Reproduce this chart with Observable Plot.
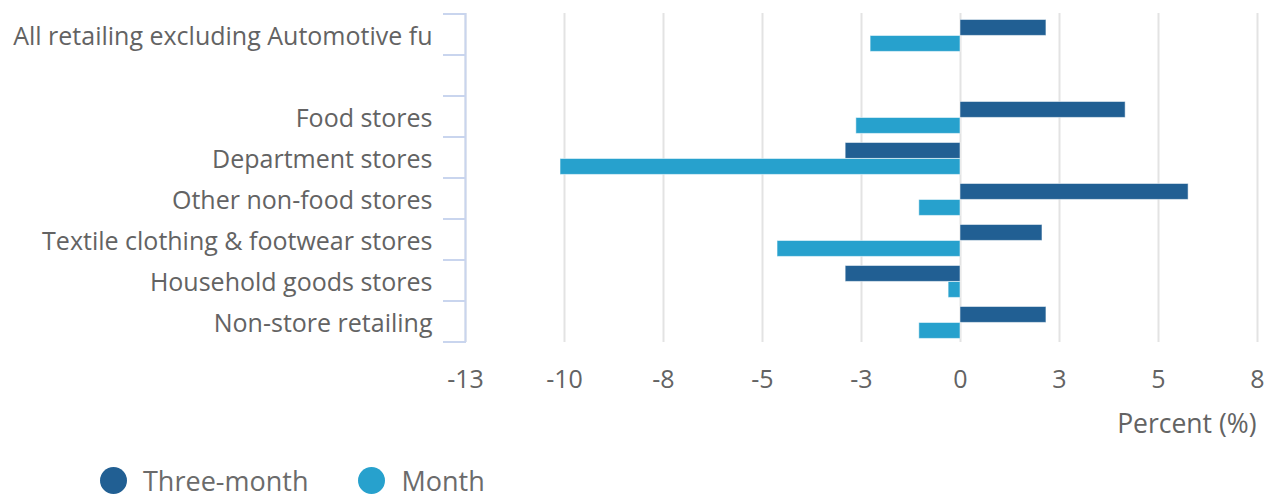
<!DOCTYPE html>
<html>
<head>
<meta charset="utf-8">
<script src="https://cdn.jsdelivr.net/npm/d3@7"></script>
<script src="https://cdn.jsdelivr.net/npm/@observablehq/plot@0.6"></script>
<style>
  body { margin: 0; background: #fff; font-family: "Open Sans", sans-serif; }
  #legend { display: flex; align-items: center; height: 27px; margin-top: 22px; padding-left: 100px; font-size: 27px; color: #6b6b6b; line-height: 27px; }
  .sw { width: 27px; height: 27px; border-radius: 50%; display: inline-block; margin-right: 16px; }
  .item { display: flex; align-items: center; margin-right: 50px; }
</style>
</head>
<body>
<div id="chart"></div>
<div id="legend"></div>
<script>
const categories = [
  "All retailing excluding Automotive fu",
  " ",
  "Food stores",
  "Department stores",
  "Other non-food stores",
  "Textile clothing & footwear stores",
  "Household goods stores",
  "Non-store retailing"
];
const threeMonth = [2.17, null, 4.17, -2.9, 5.76, 2.07, -2.9, 2.17];
const month = [-2.27, null, -2.63, -10.1, -1.04, -4.62, -0.3, -1.04];
const seriesNames = ["Three-month", "Month"];
const seriesColors = ["#215f93", "#27a1cd"];
const xDomain = [-12.5, 7.5];
const xTicks = [-12.5, -10, -7.5, -5, -2.5, 0, 2.5, 5, 7.5];
const xLabel = "Percent (%)";

const dataThree = categories.map((c, i) => ({category: c, value: threeMonth[i]})).filter(d => d.value != null);
const dataMonth = categories.map((c, i) => ({category: c, value: month[i]})).filter(d => d.value != null);

const chart = Plot.plot({
  width: 1268,
  height: 445,
  marginLeft: 465,
  marginRight: 11,
  marginTop: 13,
  marginBottom: 103,
  style: {fontFamily: "Open Sans", fontSize: "25px", color: "#636363", background: "#fff"},
  x: {domain: xDomain},
  y: {domain: categories, padding: 0},
  marks: [
    Plot.gridX({ticks: xTicks, stroke: "#e3e3e3", strokeOpacity: 1, strokeWidth: 2}),
    Plot.ruleX([xDomain[0]], {stroke: "#c9d5ee", strokeWidth: 2}),
    Plot.barX(dataThree, {x: "value", y: "category", fill: seriesColors[0], stroke: "#ffffff", strokeOpacity: 0.5, strokeWidth: 1, insetTop: 5.5, insetBottom: 19.6}),
    Plot.barX(dataMonth, {x: "value", y: "category", fill: seriesColors[1], stroke: "#ffffff", strokeOpacity: 0.5, strokeWidth: 1, insetTop: 21.5, insetBottom: 3.6}),
    Plot.axisY({tickSize: 0, tickPadding: 33, label: null, dy: 2}),
    Plot.axisX({ticks: xTicks, tickFormat: d => String(Math.sign(d) * Math.round(Math.abs(d))), tickSize: 0, tickPadding: 28, label: null}),
    Plot.text([xLabel], {frameAnchor: "bottom-right", textAnchor: "end", lineAnchor: "middle", dy: 82, dx: -1, fontSize: 26.5})
  ]
});
document.getElementById("chart").appendChild(chart);

// category boundary ticks on the left axis, from the plot's own y scale
const yScale = Plot.scale({y: chart.scale("y")});
const bw = yScale.bandwidth;
const bounds = categories.map(c => yScale.apply(c)).concat([yScale.apply(categories[categories.length - 1]) + bw]);
d3.select(chart).append("g")
  .selectAll("line").data(bounds).join("line")
  .attr("x1", 443).attr("x2", 466)
  .attr("y1", d => d).attr("y2", d => d)
  .attr("stroke", "#c9d5ee").attr("stroke-width", 2);

const legend = d3.select("#legend");
seriesNames.forEach((n, i) => {
  const it = legend.append("div").attr("class", "item");
  it.append("span").attr("class", "sw").style("background", seriesColors[i]);
  it.append("span").text(n);
});
</script>
</body>
</html>
